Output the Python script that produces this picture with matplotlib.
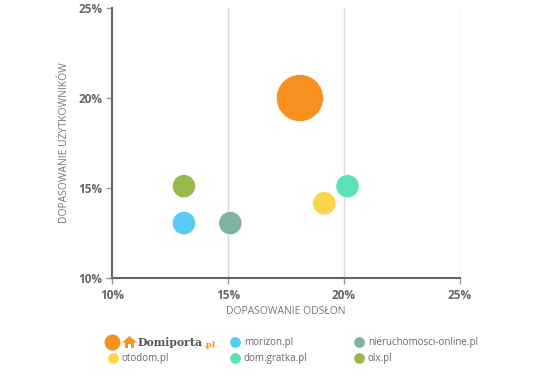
import matplotlib
matplotlib.use("Agg")
import matplotlib.pyplot as plt
from matplotlib.patches import Polygon, Rectangle

names = ["Domiporta.pl", "morizon.pl", "nieruchomosci-online.pl", "otodom.pl", "dom.gratka.pl", "olx.pl"]
x_vals = [18.1, 13.1, 15.1, 19.15, 20.15, 13.1]
y_vals = [20.0, 13.05, 13.05, 14.15, 15.1, 15.1]
sizes = [1150, 280, 280, 280, 280, 280]
colors = ["#F7901E", "#56CBF0", "#7FB2A3", "#F9D64A", "#5CE0B8", "#98B84A"]
ticks = [10, 15, 20, 25]
tick_labels = ["10%", "15%", "20%", "25%"]

W, H = 550, 377
fig = plt.figure(figsize=(5.5, 3.77), dpi=100)
ax = fig.add_axes([112 / W, 1 - 278 / H, (460 - 112) / W, (278 - 8) / H])
ax.set_xlim(10, 25)
ax.set_ylim(10, 25)
for t in ticks[1:]:
    ax.axvline(t, color="#d9d9d9", lw=1, zorder=0)
ax.scatter(x_vals, y_vals, s=sizes, c=colors, edgecolors="white", linewidths=0.5, zorder=3)
ax.set_xticks(ticks)
ax.set_xticklabels(tick_labels)
ax.set_yticks([10, 15, 20, 25])
ax.set_yticklabels(tick_labels)
for s in ["top", "right"]:
    ax.spines[s].set_visible(False)
for s in ["left", "bottom"]:
    ax.spines[s].set_color("#666666")
    ax.spines[s].set_linewidth(1.5)
ax.tick_params(axis="both", colors="#999999", length=4, width=1, labelcolor="#666666",
               labelsize=8.5)
ax.tick_params(axis="x", pad=4)
ax.tick_params(axis="y", pad=3)
for lab in ax.get_xticklabels() + ax.get_yticklabels():
    lab.set_fontweight("bold")
    lab.set_family("Open Sans")
ax.set_xlabel("DOPASOWANIE ODSŁON", fontsize=7.5, color="#777777", labelpad=3, family="Open Sans")
ax.set_ylabel("DOPASOWANIE UŻYTKOWNIKÓW", fontsize=7.5, color="#777777", labelpad=6, family="Open Sans")

# legend area in pixel coordinates
lg = fig.add_axes([0, 0, 1, 1], zorder=5)
lg.set_xlim(0, W)
lg.set_ylim(0, H)
lg.axis("off")
def Y(py):
    return H - py
leg_pos = [(112, 342), (235, 342), (359, 342), (113, 358), (235, 358), (359, 358)]
for i, (nm, col) in enumerate(zip(names, colors)):
    px, py = leg_pos[i]
    if i == 0:
        lg.scatter([px], [Y(py)], s=110, c=col, zorder=3)
        # house icon
        hx, hy = 129.5, Y(343)
        lg.add_patch(Polygon([(hx - 7.5, hy + 0.5), (hx, hy + 7), (hx + 7.5, hy + 0.5)], closed=True,
                             facecolor=col, lw=0))
        lg.add_patch(Rectangle((hx - 4.5, hy - 4.5), 9, 5.5, facecolor=col, lw=0))
        lg.add_patch(Rectangle((hx - 1.3, hy - 4.5), 2.6, 3.2, facecolor="white", lw=0))
        t = lg.text(138, Y(py + 1), "Domiporta", fontsize=7.8, fontweight="bold", family="DejaVu Serif",
                    color="#555555", va="center", ha="left")
        fig.canvas.draw()
        bb = t.get_window_extent()
        lg.text(bb.x1 + 0.3, Y(py + 3), ".pl", fontsize=6, fontweight="bold", family="DejaVu Serif",
                color=col, va="center", ha="left")
    else:
        lg.scatter([px], [Y(py)], s=45, c=col, zorder=3)
        lg.text(px + 9, Y(py), nm, fontsize=7, color="#666666", va="center", ha="left",
                family="Open Sans")

fig.savefig("out.png", dpi=100)
